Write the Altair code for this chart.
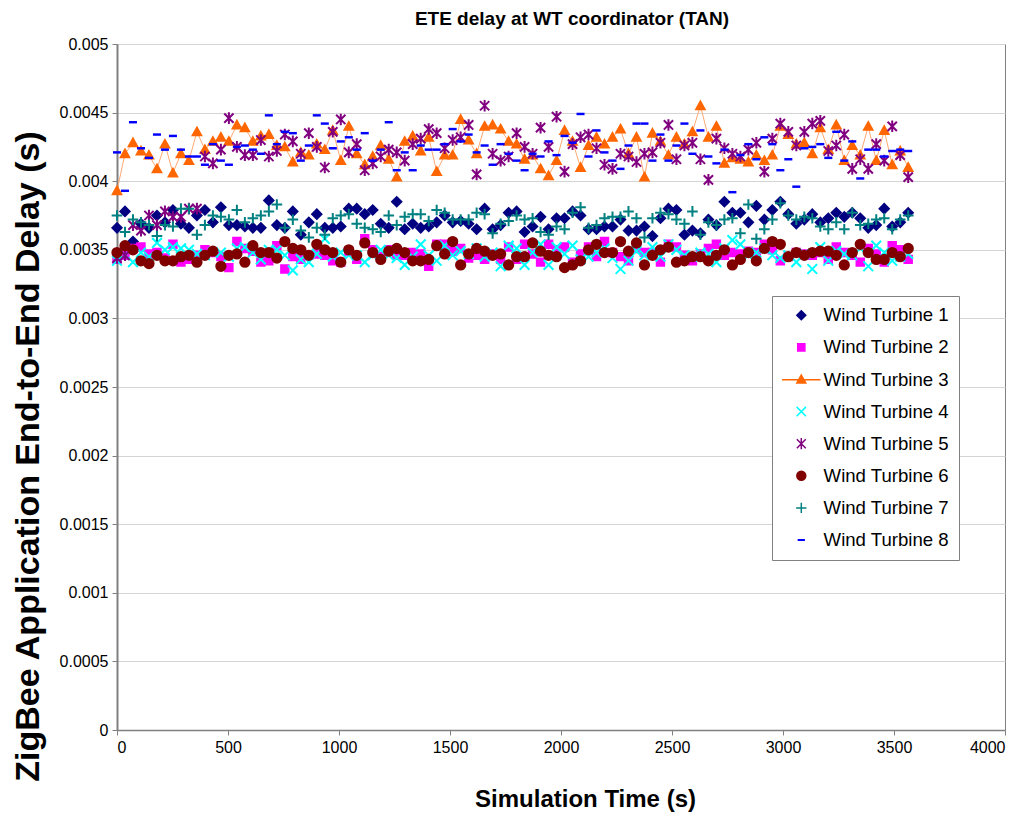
import altair as alt
import pandas as pd

series = [f"Wind Turbine {k}" for k in range(1, 9)]
# sampling instants (s): one sample every 36 s
times = [36 * i for i in range(100)]

# delays in units of 1e-4 s
wt1 = [36.6, 37.8, 35.6, 36.9, 36.6, 37.5, 37.0, 37.9, 36.9, 36.6,
       37.5, 37.9, 37.0, 38.1, 36.8, 36.8, 36.7, 36.6, 36.6, 38.6,
       36.8, 36.6, 37.8, 36.1, 37.0, 37.6, 36.6, 36.6, 36.7, 38.0,
       38.0, 37.6, 37.9, 36.9, 36.6, 38.5, 36.5, 36.9, 36.6, 36.7,
       37.0, 37.5, 37.0, 37.1, 36.9, 36.5, 38.0, 36.5, 36.8, 37.7,
       37.8, 36.3, 36.7, 37.4, 36.5, 37.3, 37.3, 37.8, 37.5, 36.5,
       36.5, 36.7, 36.7, 37.2, 36.4, 36.4, 36.7, 36.0, 37.3, 38.0,
       37.9, 36.1, 36.4, 36.2, 37.2, 36.8, 38.5, 37.7, 37.7, 37.0,
       38.2, 37.2, 37.9, 38.5, 37.6, 36.9, 37.2, 37.6, 37.0, 37.3,
       37.7, 37.4, 37.7, 37.3, 36.6, 36.8, 38.0, 36.7, 37.0, 37.7]
wt2 = [34.3, 34.6, 35.1, 35.2, 34.7, 34.8, 34.4, 35.4, 34.1, 34.3,
       34.6, 35.0, 34.8, 34.5, 33.7, 35.6, 35.1, 34.9, 34.1, 34.2,
       35.3, 33.6, 34.5, 34.3, 34.6, 34.7, 34.6, 34.2, 34.1, 34.9,
       34.3, 35.8, 35.0, 34.5, 35.0, 34.6, 34.6, 34.8, 34.7, 33.8,
       35.4, 35.4, 34.9, 35.1, 34.4, 34.6, 34.3, 34.7, 34.3, 35.2,
       34.3, 35.4, 34.7, 34.1, 35.4, 35.0, 35.2, 34.1, 34.7, 35.2,
       34.5, 35.6, 34.8, 34.5, 34.2, 35.1, 34.8, 34.8, 34.1, 35.4,
       35.2, 34.6, 34.2, 34.7, 35.1, 35.4, 34.6, 34.8, 34.7, 34.9,
       34.8, 35.4, 35.0, 34.2, 34.5, 34.8, 34.7, 34.6, 34.8, 34.3,
       35.2, 34.8, 34.6, 34.1, 35.1, 34.7, 34.1, 35.3, 35.0, 34.3]
wt3 = [39.3, 42.0, 42.8, 42.2, 41.9, 40.9, 42.7, 40.6, 42.0, 41.5,
       43.6, 42.3, 42.9, 43.2, 42.9, 44.1, 43.9, 42.9, 43.3, 43.4,
       42.6, 42.5, 41.4, 42.1, 41.9, 42.7, 42.3, 43.7, 41.5, 44.0,
       42.0, 41.2, 41.8, 42.6, 41.6, 40.3, 42.9, 43.3, 42.2, 43.2,
       40.7, 41.9, 41.9, 44.5, 43.0, 42.0, 44.0, 44.1, 43.8, 42.9,
       42.7, 41.6, 41.9, 40.9, 40.4, 41.5, 43.7, 42.9, 41.0, 42.6,
       43.2, 42.7, 43.2, 43.8, 42.0, 43.2, 40.3, 43.5, 42.9, 41.9,
       43.2, 42.7, 43.6, 45.5, 43.2, 44.0, 41.3, 41.7, 41.6, 41.4,
       41.9, 41.5, 41.9, 44.0, 43.4, 42.7, 42.8, 42.0, 43.9, 42.3,
       44.1, 41.5, 42.6, 41.9, 44.0, 41.5, 43.7, 41.2, 42.2, 41.0]
wt4 = [34.2, 34.6, 34.1, 34.8, 34.5, 35.5, 35.0, 35.2, 35.1, 35.0,
       34.7, 34.6, 34.8, 34.8, 34.5, 35.1, 35.2, 34.8, 34.3, 35.0,
       35.0, 34.6, 33.5, 34.3, 34.1, 34.7, 35.8, 34.5, 34.8, 34.6,
       34.6, 34.1, 34.6, 35.0, 34.6, 34.4, 33.9, 34.5, 35.4, 34.6,
       34.2, 35.3, 34.6, 34.9, 34.7, 35.1, 34.5, 34.8, 33.8, 35.3,
       35.1, 33.9, 34.8, 35.4, 33.9, 35.2, 34.7, 35.3, 34.3, 34.5,
       34.8, 35.1, 34.4, 33.6, 34.2, 34.9, 34.6, 35.2, 34.5, 35.4,
       35.0, 34.6, 34.5, 34.8, 34.7, 34.1, 35.1, 35.7, 35.4, 34.6,
       34.8, 35.1, 34.6, 34.4, 34.6, 34.1, 34.7, 33.6, 35.2, 34.2,
       34.9, 34.7, 34.6, 35.1, 33.8, 35.3, 34.8, 34.2, 34.5, 34.7]
wt5 = [34.4, 34.6, 36.8, 36.4, 37.5, 36.8, 37.8, 37.4, 37.4, 38.0,
       38.0, 41.8, 41.3, 42.3, 44.6, 42.5, 41.9, 41.9, 43.0, 41.8,
       42.2, 43.4, 42.9, 42.0, 43.5, 42.5, 41.0, 43.6, 44.5, 42.1,
       42.7, 40.8, 41.3, 41.8, 42.3, 42.1, 41.5, 42.7, 43.1, 43.8,
       43.5, 42.4, 43.0, 43.2, 44.1, 40.5, 45.5, 42.0, 41.5, 41.8,
       43.5, 42.5, 42.0, 43.9, 42.5, 44.7, 40.7, 42.7, 43.2, 43.4,
       42.4, 41.2, 40.9, 42.0, 41.8, 41.4, 42.0, 42.1, 42.8, 44.1,
       41.6, 42.6, 42.8, 41.6, 40.1, 43.1, 42.4, 42.0, 41.8, 42.3,
       42.8, 40.7, 43.1, 44.2, 43.6, 42.6, 43.6, 44.2, 44.4, 42.2,
       42.6, 43.4, 40.9, 41.6, 40.9, 42.7, 41.5, 44.0, 41.9, 40.3]
wt6 = [34.8, 35.3, 35.0, 34.2, 34.0, 34.6, 34.2, 34.2, 34.5, 34.6,
       34.1, 34.6, 34.9, 33.8, 34.6, 34.7, 34.1, 35.3, 34.8, 34.8,
       34.4, 35.6, 35.1, 35.0, 34.6, 35.4, 35.0, 34.8, 34.1, 35.0,
       34.6, 35.5, 34.8, 34.3, 34.9, 35.1, 34.8, 34.2, 34.2, 34.3,
       35.3, 34.7, 35.6, 33.9, 34.7, 35.1, 34.9, 34.6, 34.7, 33.9,
       34.5, 34.5, 35.5, 34.9, 34.6, 34.5, 33.7, 33.9, 34.2, 35.0,
       35.4, 34.8, 34.8, 35.6, 34.9, 35.5, 33.9, 34.6, 35.0, 35.2,
       34.1, 34.2, 34.5, 34.5, 34.2, 34.6, 35.0, 33.9, 34.3, 34.8,
       34.2, 35.1, 35.6, 35.4, 34.5, 34.8, 34.6, 34.8, 34.9, 34.9,
       34.6, 33.9, 34.8, 35.4, 34.8, 34.3, 34.3, 34.8, 34.5, 35.1]
wt7 = [37.5, 36.3, 37.2, 37.0, 36.8, 36.0, 36.8, 36.7, 38.0, 38.0,
       36.1, 36.8, 37.5, 37.4, 37.2, 37.9, 37.0, 37.3, 37.5, 37.8,
       38.3, 36.6, 37.2, 36.4, 35.9, 36.6, 36.1, 37.3, 37.5, 37.6,
       36.9, 36.6, 36.5, 36.3, 37.5, 36.8, 37.4, 37.6, 37.6, 37.1,
       37.9, 37.7, 37.2, 37.2, 37.2, 37.7, 37.6, 36.2, 36.9, 37.1,
       37.5, 37.2, 37.3, 36.3, 36.1, 36.7, 36.5, 37.7, 38.1, 36.6,
       36.8, 37.3, 37.4, 37.4, 37.8, 37.3, 35.9, 37.3, 37.7, 37.6,
       37.2, 36.9, 37.8, 36.1, 37.0, 36.8, 37.2, 37.3, 36.2, 38.3,
       35.8, 36.5, 37.2, 38.4, 37.5, 37.2, 37.4, 37.3, 36.7, 36.5,
       37.0, 36.5, 37.7, 36.8, 36.9, 37.2, 37.3, 36.5, 37.2, 37.5]
wt8 = [42.1, 39.3, 44.3, 42.4, 41.7, 43.4, 42.3, 43.3, 42.3, 41.8,
       41.8, 41.2, 42.7, 41.5, 41.2, 42.5, 42.6, 42.3, 42.0, 44.8,
       42.7, 43.6, 43.5, 41.5, 42.6, 44.8, 44.2, 42.4, 42.9, 43.2,
       42.3, 43.5, 41.5, 42.3, 44.3, 40.8, 42.1, 40.8, 42.6, 42.3,
       42.3, 42.7, 43.8, 42.9, 43.4, 42.1, 42.6, 41.2, 42.7, 42.0,
       41.5, 40.8, 42.0, 41.8, 42.9, 41.9, 43.3, 42.8, 44.9, 41.8,
       43.7, 42.1, 41.5, 40.9, 42.6, 44.2, 44.2, 41.5, 43.4, 41.5,
       42.6, 44.2, 42.0, 43.7, 41.8, 41.3, 42.3, 39.2, 41.9, 42.7,
       41.6, 43.2, 42.7, 40.8, 41.6, 39.6, 42.4, 42.5, 42.7, 41.7,
       43.6, 41.5, 42.9, 40.2, 42.3, 42.3, 41.8, 42.2, 42.3, 42.2]

values = [wt1, wt2, wt3, wt4, wt5, wt6, wt7, wt8]

strokes = ["#000080", "#ff00ff", "#ff6600", "#00ffff",
           "#800080", "#800000", "#008080", "#0000ff"]
fills = ["#000080", "#ff00ff", "#ff6600", "transparent",
         "transparent", "#800000", "transparent", "#0000ff"]
TRI = "M0,-1L1,0.8L-1,0.8Z"
shapes = [
    "diamond",
    "M-0.8,-0.8L0.8,-0.8L0.8,0.8L-0.8,0.8Z",
    # legend symbol of WT3 shows the connecting line through the triangle
    "M-4.3,0.05L4.3,0.05M0,-1L1,0.8L-1,0.8Z",
    "M-1.05,-1.05L1.05,1.05M-1.05,1.05L1.05,-1.05",
    "M-1,-1L1,1M-1,1L1,-1M0,-1.25L0,1.25",
    "circle",
    "M-1.15,0L1.15,0M0,-1.15L0,1.15",
    "M-0.65,-0.05L0.65,-0.05L0.65,0.05L-0.65,0.05Z",
]
LINE_COLOR = "#ffa872"
MSIZE = 86

rows = []
for name, vals in zip(series, values):
    for t, v in zip(times, vals):
        rows.append({"series": name, "time": t, "delay": v * 1e-4})
df = pd.DataFrame(rows)

FONT = "Liberation Sans"

leg = alt.Legend(
    title=None, orient="none", legendX=655, legendY=252,
    fillColor="white", strokeColor="#808080", padding=10,
    rowPadding=13.1, symbolOffset=10, labelOffset=13,
    labelFontSize=18.6, labelFont=FONT, labelColor="black",
    symbolSize=80, symbolStrokeWidth=1.5, symbolOpacity=1,
)

xenc = alt.X("time:Q",
             scale=alt.Scale(domain=[0, 4000], nice=False),
             axis=alt.Axis(values=list(range(0, 4001, 500)), format="d",
                           title="Simulation Time (s)", grid=False,
                           titleX=468, titleY=76, titleAlign="center",
                           titleBaseline="alphabetic", titleFontSize=24,
                           labelPadding=4, domainWidth=1.5))
yenc = alt.Y("delay:Q",
             scale=alt.Scale(domain=[0, 0.005], nice=False),
             axis=alt.Axis(values=[round(i * 0.0005, 4) for i in range(11)],
                           format=".4~f",
                           title="ZigBee Application End-to-End Delay (s)",
                           grid=True, gridColor="#d4d4d4",
                           titleX=-89, titleY=412, titleAngle=270,
                           titleAlign="center", titleBaseline="middle",
                           titleFontSize=34, labelPadding=4, domainWidth=2))

base = alt.Chart(df)
wt3_data = base.transform_filter(alt.datum.series == "Wind Turbine 3")

line = wt3_data.mark_line(color=LINE_COLOR, strokeWidth=1).encode(x=xenc, y=yenc)
tri = wt3_data.mark_point(shape=TRI, filled=True, color="#ff6600", opacity=1,
                          size=MSIZE, stroke="#ff6600", strokeWidth=1.5).encode(x=xenc, y=yenc)
others = base.transform_filter(alt.datum.series != "Wind Turbine 3").mark_point(
    opacity=1, size=MSIZE, strokeWidth=2
).encode(
    x=xenc, y=yenc,
    shape=alt.Shape("series:N", scale=alt.Scale(domain=series, range=shapes), legend=leg),
    fill=alt.Fill("series:N", scale=alt.Scale(domain=series, range=fills), legend=leg),
    stroke=alt.Stroke("series:N", scale=alt.Scale(domain=series, range=strokes), legend=leg),
)

chart = alt.layer(line, tri, others).properties(
    width=888, height=686,
    autosize=alt.AutoSizeParams(type="none"),
    padding={"left": 109, "top": 36, "right": 11, "bottom": 82},
    title=alt.Title("ETE delay at WT coordinator (TAN)", font=FONT,
                    fontSize=19, fontWeight="bold", color="black",
                    anchor="middle", dx=11, dy=27, offset=19, baseline="alphabetic"),
    background="white",
).configure_view(
    stroke="#808080", strokeWidth=1
).configure_axis(
    labelFont=FONT, labelFontSize=16, labelColor="black",
    titleFont=FONT, titleFontWeight="bold", titleColor="black",
    tickColor="#808080", tickSize=5, domainColor="#808080",
)

chart.save("out.html", embed_options={"renderer": "svg", "actions": False})
